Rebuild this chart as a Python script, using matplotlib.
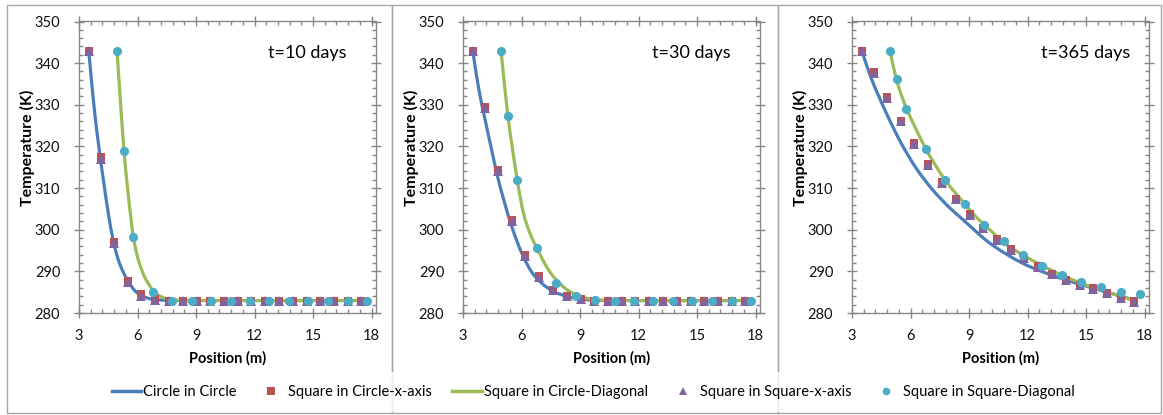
import numpy as np
import matplotlib
matplotlib.use("Agg")
import matplotlib.pyplot as plt
from matplotlib.path import Path
from matplotlib.patches import PathPatch
from matplotlib.lines import Line2D
from matplotlib.ticker import MultipleLocator

plt.rcParams['font.family'] = ['Lato', 'DejaVu Sans']

labels = ["Circle in Circle", "Square in Circle-x-axis", "Square in Circle-Diagonal",
          "Square in Square-x-axis", "Square in Square-Diagonal"]
titles = ["t=10 days", "t=30 days", "t=365 days"]

# probe positions along x-axis and along the diagonal
x_axis = [3.5, 4.13, 4.78, 5.5, 6.2, 6.91, 7.6, 8.32, 9.03, 9.74, 10.44, 11.14, 11.84,
          12.55, 13.26, 13.96, 14.67, 15.38, 16.09, 16.8, 17.47]
x_diag = [4.95, 5.3, 5.78, 6.8, 7.77, 8.8, 9.77, 10.79, 11.78, 12.76, 13.78, 14.76,
          15.78, 16.78, 17.77]

# t = 10 days
cc10_x = [3.5, 3.75, 4.0, 4.25, 4.5, 4.75, 5.0, 5.25, 5.5, 5.75, 6.0, 6.5, 7.0, 7.5, 8.5, 17.8]
cc10_y = [343, 330.5, 320.5, 312, 304, 297.5, 293, 290, 287.8, 286, 284.8, 283.6, 283.2, 283.05, 283, 283]
scd10_x = [4.95, 5.1, 5.3, 5.5, 5.78, 6.0, 6.3, 6.5, 6.8, 7.1, 7.5, 8.0, 9.0, 17.8]
scd10_y = [343, 332.5, 319.5, 309.5, 298.5, 293.5, 289.3, 287.5, 285.4, 284.2, 283.4, 283.1, 283, 283]
scx10 = [343, 317.5, 297, 287.8, 284.5, 283.3, 283, 283, 283, 283, 283, 283, 283, 283,
         283, 283, 283, 283, 283, 283, 283]
ssx10 = [343, 317, 296.8, 287.5, 284.2, 283.2, 283, 283, 283, 283, 283, 283, 283, 283,
         283, 283, 283, 283, 283, 283, 283]
ssd10 = [343, 319, 298.2, 285, 283, 283, 283, 283, 283, 283, 283, 283, 283, 283, 283]

# t = 30 days
cc30_x = [3.5, 3.8, 4.13, 4.5, 4.76, 5.1, 5.52, 6.0, 6.5, 7.0, 7.62, 8.33, 9.06, 9.76, 10.5, 17.8]
cc30_y = [343, 334, 326.5, 318.5, 313, 307, 300.5, 294.5, 290, 287.3, 285.2, 284, 283.3, 283.1, 283, 283]
scd30_x = [4.95, 5.3, 5.78, 6.1, 6.43, 6.8, 7.3, 7.77, 8.33, 8.8, 9.3, 9.77, 10.8, 17.8]
scd30_y = [343, 327.4, 312, 304, 299.2, 295.5, 291, 288, 285.6, 284.4, 283.6, 283.2, 283, 283]
scx30 = [343, 329.4, 314.3, 302.4, 293.9, 288.9, 285.6, 284.0, 283.4, 283.0, 283, 283, 283,
         283, 283, 283, 283, 283, 283, 283, 283]
ssx30 = [343, 329.2, 314.2, 302.2, 293.7, 288.6, 285.5, 284.0, 283.3, 283.0, 283, 283, 283,
         283, 283, 283, 283, 283, 283, 283, 283]
ssd30 = [343, 327.4, 312, 295.5, 287.3, 284, 283.2, 283, 283, 283, 283, 283, 283, 283, 283]

# t = 365 days
cc365_x = [3.5, 4.0, 4.76, 5.53, 6.3, 7.15, 8.0, 8.6, 10.06, 11.77, 13.48, 15.19, 16.9, 17.47]
cc365_y = [343, 336.2, 328.0, 320.7, 314.7, 309.5, 305.3, 302.8, 296.8, 291.9, 288.7, 286.2, 283.9, 283.0]
scd365_x = [4.95, 5.28, 5.79, 6.78, 7.75, 8.78, 9.38, 10.06, 10.74, 11.77, 12.8, 13.74, 14.68,
            15.7, 16.73, 17.55]
scd365_y = [343, 336, 329.2, 319.5, 312.1, 306.2, 303.0, 300.0, 297.1, 293.9, 291.3, 289.1, 287.3,
            285.5, 284.1, 282.8]
scx365 = [343, 337.8, 331.8, 326.1, 320.8, 315.8, 311.5, 307.4, 303.7, 300.5, 297.7, 295.3,
          293.2, 291.2, 289.4, 288.0, 286.8, 285.9, 284.8, 283.8, 282.8]
ssx365 = [343, 337.6, 331.7, 326.0, 320.6, 315.6, 311.3, 307.3, 303.6, 300.4, 297.6, 295.2,
          293.1, 291.1, 289.3, 287.9, 286.7, 285.8, 284.7, 283.7, 282.7]
ssd365 = [343, 336.1, 329.1, 319.4, 312.0, 306.1, 301.2, 297.2, 294.0, 291.4, 289.2, 287.5,
          286.2, 285.1, 284.5]

panels = [
    (cc10_x, cc10_y, scd10_x, scd10_y, scx10, ssx10, ssd10),
    (cc30_x, cc30_y, scd30_x, scd30_y, scx30, ssx30, ssd30),
    (cc365_x, cc365_y, scd365_x, scd365_y, scx365, ssx365, ssd365),
]

c_blue = '#4A7EBB'
c_red = '#C0504D'
c_green = '#9BBB59'
c_purple = '#8064A2'
c_cyan = '#4BACC6'
c_axis = '#868686'


def smooth(xs, ys):
    # excel style smoothed line: cubic hermite segments through the points
    xs = np.asarray(xs, float)
    ys = np.asarray(ys, float)
    n = len(xs)
    m = np.zeros(n)
    for i in range(n):
        a = max(i - 1, 0)
        b = min(i + 1, n - 1)
        m[i] = (ys[b] - ys[a]) / (xs[b] - xs[a])
    verts = [(xs[0], ys[0])]
    codes = [Path.MOVETO]
    for i in range(n - 1):
        dx = xs[i + 1] - xs[i]
        verts += [(xs[i] + dx / 3, ys[i] + m[i] * dx / 3),
                  (xs[i + 1] - dx / 3, ys[i + 1] - m[i + 1] * dx / 3),
                  (xs[i + 1], ys[i + 1])]
        codes += [Path.CURVE4] * 3
    return Path(verts, codes)


fig = plt.figure(figsize=(11.63, 4.15), dpi=100)
W, H = 1163, 415
lefts = [79, 463, 852]

for k, (cx, cy, gx, gy, sq, tri, cir) in enumerate(panels):
    ax = fig.add_axes([lefts[k] / W, (H - 313) / H, 297 / W, 291.5 / H])
    ax.add_patch(PathPatch(smooth(cx, cy), fill=False, edgecolor=c_blue, lw=2.3,
                           capstyle='round', zorder=2))
    ax.add_patch(PathPatch(smooth(gx, gy), fill=False, edgecolor=c_green, lw=2.3,
                           capstyle='round', zorder=2.1))
    ax.plot(x_axis, sq, 's', color=c_red, ms=5.8, mew=0, zorder=3)
    ax.plot(x_axis, tri, '^', color=c_purple, ms=6.8, mew=0, zorder=3.1)
    ax.plot(x_diag, cir, 'o', color=c_cyan, ms=6.6, mew=0, zorder=3.2)

    ax.set_xlim(3, 18.23)
    ax.set_ylim(280, 350)
    ax.xaxis.set_major_locator(MultipleLocator(3))
    ax.xaxis.set_minor_locator(MultipleLocator(0.6))
    ax.yaxis.set_major_locator(MultipleLocator(10))
    ax.yaxis.set_minor_locator(MultipleLocator(2))
    ax.tick_params(which='major', direction='inout', length=7, width=1, color=c_axis,
                   top=True, right=True, labelsize=10.5, labelcolor='#111111')
    ax.tick_params(which='minor', direction='in', length=3, width=1, color=c_axis,
                   top=True, right=True)
    ax.tick_params(axis='y', which='major', pad=10)
    ax.tick_params(axis='x', which='major', pad=8)
    for s in ax.spines.values():
        s.set_color(c_axis)
        s.set_linewidth(1)
    ax.text(0.5, -0.154, "Position (m)", transform=ax.transAxes, fontsize=10.5,
            fontweight='bold', ha='center', va='center')
    ax.text(-0.172, 0.566, "Temperature (K)", transform=ax.transAxes, fontsize=11.5,
            fontweight='bold', ha='center', va='center', rotation=90)
    ax.text(12.7, 342.4, titles[k], fontsize=13, ha='left', va='center')

# chart borders
for x0, x1 in [(7, 392), (392, 778), (778, 1161)]:
    fig.add_artist(plt.Rectangle((x0 / W, (H - 413) / H), (x1 - x0) / W, 408 / H,
                                 transform=fig.transFigure, fill=False,
                                 edgecolor='#a6a6a6', lw=1, zorder=1))

handles = [
    Line2D([], [], color=c_blue, lw=2.5),
    Line2D([], [], ls='none', marker='s', color=c_red, ms=5.5, mew=0),
    Line2D([], [], color=c_green, lw=2.5),
    Line2D([], [], ls='none', marker='^', color=c_purple, ms=5.5, mew=0),
    Line2D([], [], ls='none', marker='o', color=c_cyan, ms=5.5, mew=0),
]
leg = fig.legend(handles, labels, loc='center', bbox_to_anchor=(0.51, (H - 392) / H),
                 ncol=5, fontsize=10.5, frameon=True, fancybox=False, facecolor='white',
                 edgecolor='none', handlelength=2.0, handletextpad=0.15,
                 columnspacing=1.4, borderpad=0.9)
leg.set_zorder(5)

fig.savefig("out.png", dpi=100)
